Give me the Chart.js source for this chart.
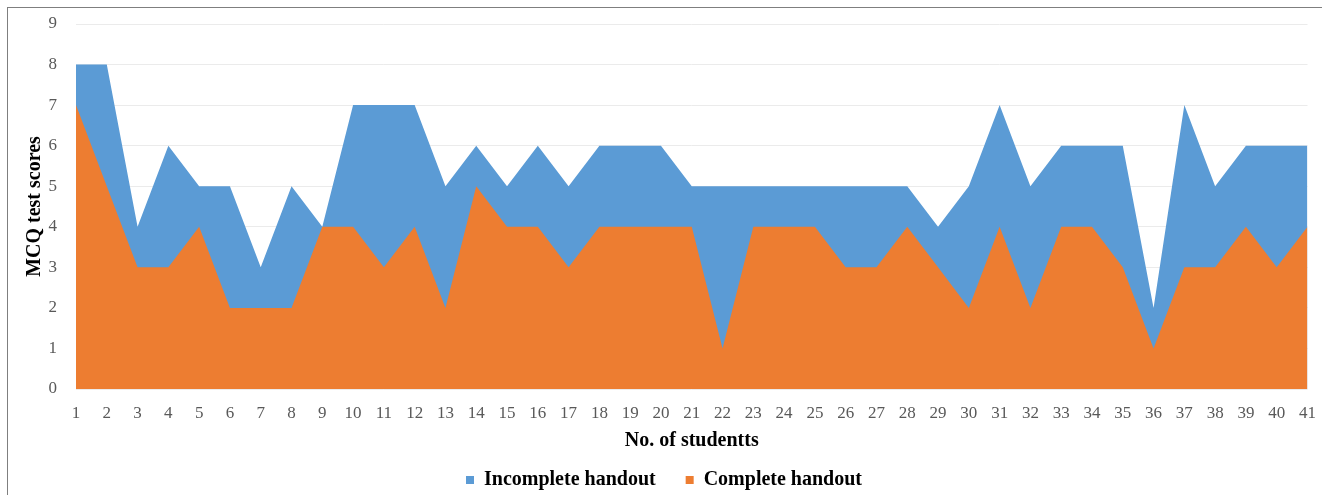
<!DOCTYPE html>
<html>
<head>
<meta charset="utf-8">
<script src="https://cdn.jsdelivr.net/npm/chart.js@4.4.1/dist/chart.umd.min.js"></script>
<style>
  html, body { margin: 0; padding: 0; background: #fff; }
  #wrap { position: absolute; left: 0; top: 0; width: 1322px; height: 495px; }
  #frame { position: absolute; left: 7px; top: 7px; width: 1330px; height: 500px; border: 1.5px solid #7f7f7f; box-sizing: border-box; pointer-events: none; }
  canvas { position: absolute; left: 0; top: 0; }
</style>
</head>
<body>
<div id="wrap">
  <canvas id="c" width="1322" height="495"></canvas>
  <div id="frame"></div>
</div>
<script>
// Student numbers along the x axis
const students = Array.from({ length: 41 }, (_, i) => String(i + 1));

// MCQ test scores per student
const incompleteHandout = [8, 8, 4, 6, 5, 5, 3, 5, 4, 7, 7, 7, 5, 6, 5, 6, 5, 6, 6, 6, 5,
                           5, 5, 5, 5, 5, 5, 5, 4, 5, 7, 5, 6, 6, 6, 2, 7, 5, 6, 6, 6];
const completeHandout   = [7, 5, 3, 3, 4, 2, 2, 2, 4, 4, 3, 4, 2, 5, 4, 4, 3, 4, 4, 4, 4,
                           1, 4, 4, 4, 3, 3, 4, 3, 2, 4, 2, 4, 4, 3, 1, 3, 3, 4, 3, 4];

const yTicks = [0, 1, 2, 3, 4, 5, 6, 7, 8, 9];

const serif = "'Liberation Serif', 'Times New Roman', serif";

new Chart(document.getElementById('c'), {
  type: 'line',
  data: {
    labels: students,
    datasets: [
      {
        label: 'Complete handout',
        data: completeHandout,
        backgroundColor: '#ED7D31',
        borderColor: '#ED7D31',
        borderWidth: 0,
        pointRadius: 0,
        tension: 0,
        fill: 'origin'
      },
      {
        label: 'Incomplete handout',
        data: incompleteHandout,
        backgroundColor: '#5B9BD5',
        borderColor: '#5B9BD5',
        borderWidth: 0,
        pointRadius: 0,
        tension: 0,
        fill: 'origin'
      }
    ]
  },
  options: {
    responsive: false,
    animation: false,
    layout: { padding: { left: 20, right: 14, top: 24, bottom: -5 } },
    plugins: {
      tooltip: { enabled: false },
      legend: {
        position: 'bottom',
        labels: {
          usePointStyle: true,
          pointStyle: 'rect',
          boxWidth: 8,
          boxHeight: 8,
          padding: 30,
          color: '#000',
          font: { family: serif, size: 20, weight: 'bold' },
          sort: (a, b) => b.datasetIndex - a.datasetIndex
        }
      }
    },
    scales: {
      x: {
        offset: false,
        grid: { display: false },
        border: { display: false },
        ticks: {
          autoSkip: false,
          maxRotation: 0,
          color: '#595959',
          padding: 6,
          font: { family: serif, size: 17 }
        },
        title: {
          display: true,
          text: 'No. of studentts',
          color: '#000',
          padding: { top: 0, bottom: -13 },
          font: { family: serif, size: 20, weight: 'bold' }
        },
        afterFit: (s) => { s.height = 51; }
      },
      y: {
        min: 0,
        max: 9,
        afterBuildTicks: (s) => { s.ticks = yTicks.map(v => ({ value: v })); },
        grid: { color: '#ebebeb', lineWidth: 1, drawTicks: false },
        border: { display: false },
        ticks: {
          color: '#595959',
          padding: 19,
          font: { family: serif, size: 17 }
        },
        title: {
          display: true,
          text: 'MCQ test scores',
          color: '#000',
          padding: { top: 3, bottom: 0 },
          font: { family: serif, size: 20, weight: 'bold' }
        },
        afterFit: (s) => {
          s.width = 56;
          s.paddingTop = 0;
          s.paddingBottom = 0;
        }
      }
    }
  }
});
</script>
</body>
</html>
